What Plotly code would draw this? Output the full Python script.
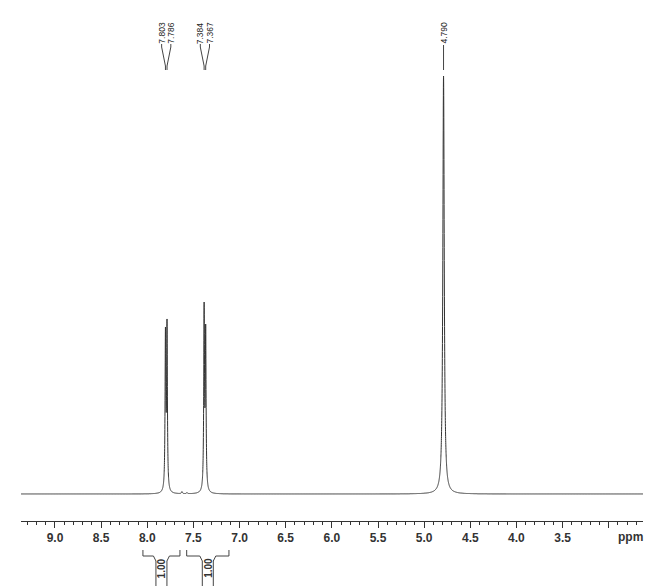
import numpy as np
import plotly.graph_objects as go

# ---- data ----
peak_ppm    = [7.803, 7.786, 7.384, 7.367, 4.790, 7.624, 7.570]
peak_height = [154.0, 162.7, 179.5, 155.6, 418.0, 2.0, 1.0]
peak_hwhm   = [0.005, 0.005, 0.005, 0.005, 0.009, 0.006, 0.006]

label_groups = [["7.803", "7.786"], ["7.384", "7.367"], ["4.790"]]
label_ppm    = [[7.803, 7.786], [7.384, 7.367], [4.790]]

integ_start = [8.047, 7.573]
integ_end   = [7.646, 7.115]
integ_value = ["1.00", "1.00"]

tick_vals = [9.0, 8.5, 8.0, 7.5, 7.0, 6.5, 6.0, 5.5, 5.0, 4.5, 4.0, 3.5, 3.0]
tick_text = ["9.0", "8.5", "8.0", "7.5", "7.0", "6.5", "6.0", "5.5", "5.0", "4.5", "4.0", "3.5", ""]

# ---- layout geometry (page pixels; the page body adds an 8px offset) ----
OFF = 8
W, H = 660 - OFF, 586 - OFF
ML, MR, MT = 21 - OFF, 17, 10 - OFF
AXIS_PX = 521               # page pixel row of the x axis
BASE_PX = 494               # page pixel row of the baseline
MB = H - (AXIS_PX - OFF)
X_LEFT, X_RIGHT = 9.368, 2.629
PX_PER_PPM = (W - ML - MR) / (X_LEFT - X_RIGHT)
PLOT_H = H - MT - MB
Y_MIN = -(AXIS_PX - BASE_PX)
Y_MAX = Y_MIN + PLOT_H

def ypix(p):               # page pixel row -> data y
    return BASE_PX - p

def ypaper(p):             # page pixel row -> paper y
    return (AXIS_PX - p) / PLOT_H

def dppm(px):              # pixel offset -> ppm offset
    return px / PX_PER_PPM

# ---- spectrum ----
x = np.linspace(2.60, 9.40, 13601)
x = np.unique(np.concatenate([x, np.array(peak_ppm)]))
y = np.zeros_like(x)
for c, h, g in zip(peak_ppm, peak_height, peak_hwhm):
    y += h * g**2 / ((x - c)**2 + g**2)

fig = go.Figure()
fig.add_trace(go.Scatter(x=x, y=y, mode="lines",
                         line=dict(color="#333333", width=1, simplify=False),
                         hoverinfo="skip", showlegend=False))

shapes = []
annotations = []
LC = "#444444"

# peak labels
for names, pos in zip(label_groups, label_ppm):
    center = sum(pos) / len(pos)
    n = len(pos)
    for i, (nm, p) in enumerate(zip(names, pos)):
        if n == 1:
            lx = p
        else:
            lx = center + dppm(4.6) * (1 if i == 0 else -1)
        annotations.append(dict(x=lx, y=ypix(33), xref="x", yref="y",
                                text=nm, textangle=-90, showarrow=False,
                                xanchor="center", yanchor="middle",
                                font=dict(family="Liberation Sans", size=8.5, color="#222222")))
        if n == 1:
            shapes.append(dict(type="line", xref="x", yref="y", x0=lx, x1=p,
                               y0=ypix(45), y1=ypix(70), line=dict(color=LC, width=1)))
        else:
            shapes.append(dict(type="line", xref="x", yref="y", x0=lx, x1=lx,
                               y0=ypix(44), y1=ypix(47), line=dict(color=LC, width=1)))
            shapes.append(dict(type="line", xref="x", yref="y", x0=lx, x1=p,
                               y0=ypix(47), y1=ypix(66), line=dict(color=LC, width=1)))
            shapes.append(dict(type="line", xref="x", yref="y", x0=p, x1=p,
                               y0=ypix(66), y1=ypix(70), line=dict(color=LC, width=1)))

# integration brackets
IC = "#444444"
for a, b, v in zip(integ_start, integ_end, integ_value):
    c = (a + b) / 2
    segs = [
        (a, 550, a, 556),
        (a, 556, c + dppm(8), 556),
        (c + dppm(8), 556, c + dppm(5.5), 561),
        (c + dppm(5.5), 561, c + dppm(5.5), 590),
        (b, 550, b, 556),
        (b, 556, c - dppm(8), 556),
        (c - dppm(8), 556, c - dppm(5.5), 561),
        (c - dppm(5.5), 561, c - dppm(5.5), 590),
    ]
    for x0, y0, x1, y1 in segs:
        shapes.append(dict(type="line", xref="x", yref="paper",
                           x0=x0, x1=x1, y0=ypaper(y0), y1=ypaper(y1),
                           line=dict(color=IC, width=1)))
    annotations.append(dict(x=c, y=ypaper(568), xref="x", yref="paper",
                            text="<b>" + v + "</b>", textangle=-90, showarrow=False,
                            xanchor="center", yanchor="middle",
                            font=dict(family="Liberation Sans", size=10, color="#333333")))

# ppm label
annotations.append(dict(x=X_RIGHT + dppm(13), y=ypaper(537), xref="x", yref="paper",
                        text="<b>ppm</b>", showarrow=False,
                        xanchor="center", yanchor="middle",
                        font=dict(family="Liberation Sans", size=12, color="#333333")))

fig.update_layout(
    width=W, height=H,
    margin=dict(l=ML, r=MR, t=MT, b=MB, pad=0),
    paper_bgcolor="white", plot_bgcolor="white",
    shapes=shapes, annotations=annotations,
    xaxis=dict(range=[X_LEFT, X_RIGHT], showgrid=False, zeroline=False,
               showline=True, linecolor="#333333", linewidth=1,
               ticks="outside", ticklen=6, tickcolor="#333333", tickwidth=1,
               tickmode="array", tickvals=tick_vals, ticktext=tick_text,
               tickfont=dict(family="Liberation Sans", size=12, color="#333333", weight="bold"),
               minor=dict(tickmode="linear", tick0=0, dtick=0.1, ticks="outside",
                          ticklen=3, tickcolor="#333333", tickwidth=1, showgrid=False)),
    yaxis=dict(range=[Y_MIN, Y_MAX], visible=False, showgrid=False, zeroline=False),
)

fig.write_html("out.html")
